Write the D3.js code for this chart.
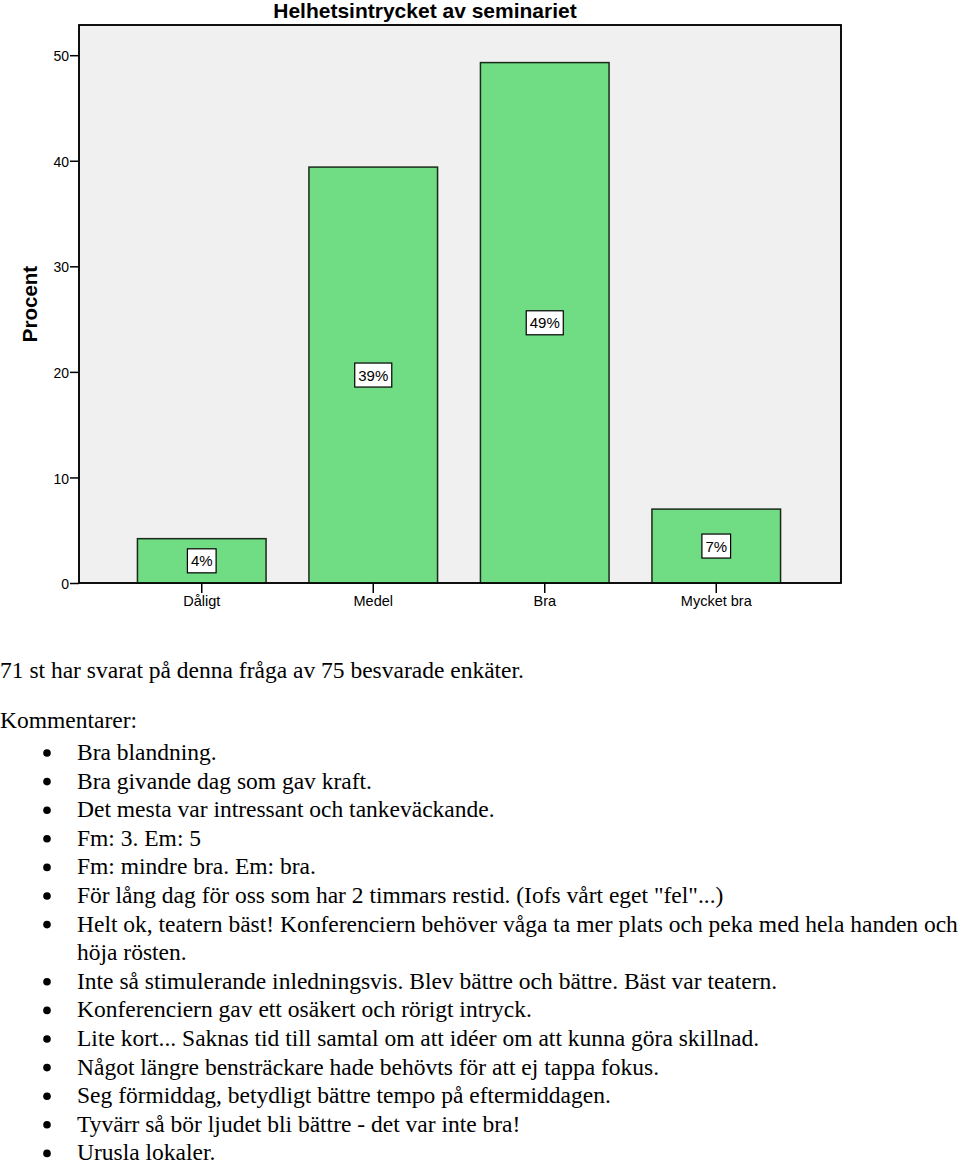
<!DOCTYPE html>
<html><head><meta charset="utf-8">
<script src="https://cdn.jsdelivr.net/npm/d3@7"></script>
<style>body{margin:0;background:#fff}svg{display:block}</style>
</head><body>
<script>
const categories = ["Dåligt","Medel","Bra","Mycket bra"];
const values = [4.2, 39.4, 49.3, 7.0];
const barLabels = ["4%","39%","49%","7%"];
const yTicks = [0,10,20,30,40,50];
const title = "Helhetsintrycket av seminariet";
const yTitle = "Procent";
const intro = "71 st har svarat på denna fråga av 75 besvarade enkäter.";
const commentsHead = "Kommentarer:";
const comments = [
 ["Bra blandning."],
 ["Bra givande dag som gav kraft."],
 ["Det mesta var intressant och tankeväckande."],
 ["Fm: 3. Em: 5"],
 ["Fm: mindre bra. Em: bra."],
 ["För lång dag för oss som har 2 timmars restid. (Iofs vårt eget \"fel\"...)"],
 ["Helt ok, teatern bäst! Konferenciern behöver våga ta mer plats och peka med hela handen och","höja rösten."],
 ["Inte så stimulerande inledningsvis. Blev bättre och bättre. Bäst var teatern."],
 ["Konferenciern gav ett osäkert och rörigt intryck."],
 ["Lite kort... Saknas tid till samtal om att idéer om att kunna göra skillnad."],
 ["Något längre bensträckare hade behövts för att ej tappa fokus."],
 ["Seg förmiddag, betydligt bättre tempo på eftermiddagen."],
 ["Tyvärr så bör ljudet bli bättre - det var inte bra!"],
 ["Urusla lokaler."]
];

const W=960,H=1165;
const svg=d3.select("body").append("svg").attr("width",W).attr("height",H);
const frame={l:79,r:841,t:25,b:583};
const y=d3.scaleLinear().domain([0,50]).range([583,55.2]);
const x=d3.scaleBand().domain(categories).range([116,802]).paddingInner(0.25).paddingOuter(0.125);
const sans="Liberation Sans, Arial, sans-serif";
const serif="Liberation Serif, 'Times New Roman', serif";

svg.append("rect").attr("x",frame.l).attr("y",frame.t).attr("width",frame.r-frame.l).attr("height",frame.b-frame.t)
  .attr("fill","#f0f0f0").attr("stroke","#000").attr("stroke-width",1.5);

svg.append("text").attr("x",425).attr("y",18).attr("text-anchor","middle")
  .attr("font-family",sans).attr("font-weight","bold").attr("font-size",21).text(title);

const bars=svg.append("g");
categories.forEach((c,i)=>{
  bars.append("rect").attr("x",x(c)).attr("y",y(values[i])).attr("width",x.bandwidth()).attr("height",y(0)-y(values[i]))
    .attr("fill","#70dc84").attr("stroke","#1a2a1a").attr("stroke-width",1.5);
});

const ya=svg.append("g").attr("transform",`translate(${frame.l},0)`)
  .call(d3.axisLeft(y).tickValues(yTicks).tickSize(9).tickPadding(1).tickFormat(d3.format("d")));
ya.select(".domain").remove();
ya.selectAll("line").attr("stroke","#000").attr("stroke-width",1.5);
ya.selectAll("text").attr("font-family",sans).attr("font-size",14).attr("fill","#000").attr("dy","0.4em");

const xa=svg.append("g").attr("transform",`translate(0,${frame.b})`)
  .call(d3.axisBottom(x).tickSize(10).tickPadding(3));
xa.select(".domain").remove();
xa.selectAll("line").attr("stroke","#000").attr("stroke-width",1.5);
xa.selectAll("text").attr("font-family",sans).attr("font-size",14.5).attr("fill","#000");

svg.append("rect").attr("x",frame.l).attr("y",frame.t).attr("width",frame.r-frame.l).attr("height",frame.b-frame.t)
  .attr("fill","none").attr("stroke","#000").attr("stroke-width",1.5);

categories.forEach((c,i)=>{
  const cx=x(c)+x.bandwidth()/2, cy=(y(values[i])+y(0))/2;
  const g=svg.append("g");
  const t=g.append("text").attr("x",cx).attr("y",cy+5.5).attr("text-anchor","middle")
    .attr("font-family",sans).attr("font-size",15).text(barLabels[i]);
  const bb=t.node().getBBox();
  g.insert("rect","text").attr("x",bb.x-3.5).attr("y",cy-12).attr("width",bb.width+7).attr("height",24)
    .attr("fill","#fff").attr("stroke","#000").attr("stroke-width",1.2);
});

svg.append("text").attr("transform",`translate(37,${(frame.t+frame.b)/2}) rotate(-90)`).attr("text-anchor","middle")
  .attr("font-family",sans).attr("font-weight","bold").attr("font-size",20.5).text(yTitle);

svg.append("text").attr("x",0).attr("y",678).attr("font-family",serif).attr("font-size",23.5).text(intro);
svg.append("text").attr("x",0).attr("y",728).attr("font-family",serif).attr("font-size",23.5).text(commentsHead);
let ly=760;
const step=28.6;
comments.forEach(lines=>{
  svg.append("circle").attr("cx",47).attr("cy",ly-7).attr("r",3.8).attr("fill","#000");
  lines.forEach(l=>{
    svg.append("text").attr("x",77).attr("y",ly).attr("font-family",serif).attr("font-size",23.5).text(l);
    ly+=step;
  });
});
</script>
</body></html>
